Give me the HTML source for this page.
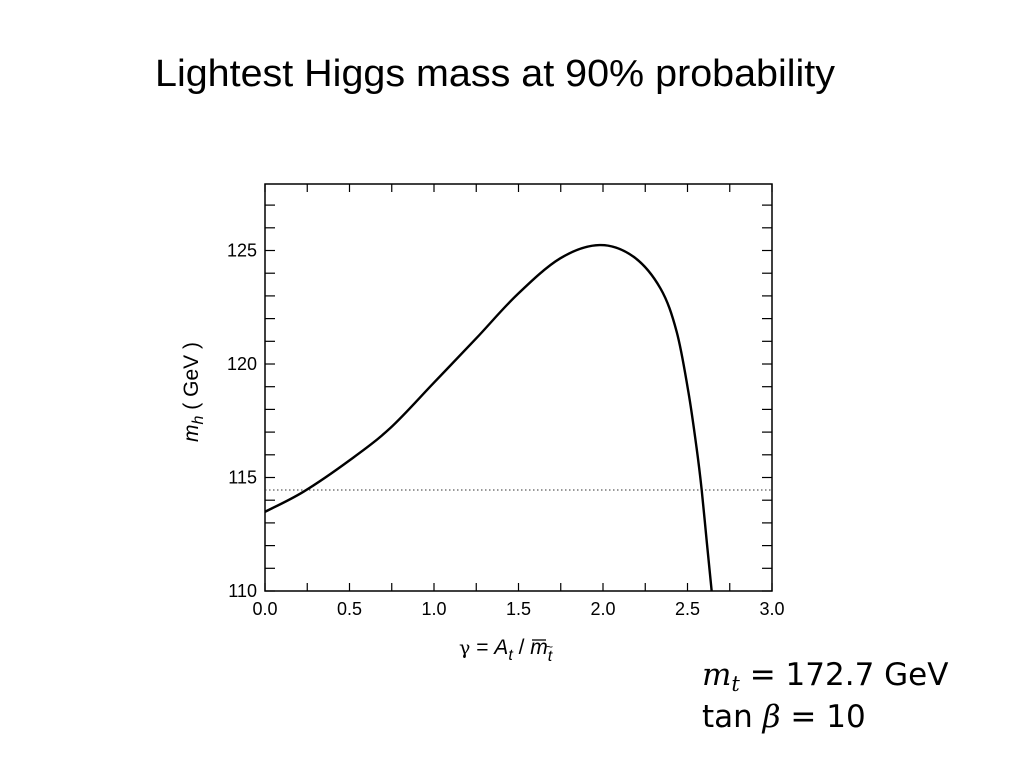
<!DOCTYPE html>
<html><head><meta charset="utf-8"><style>
body{margin:0;background:#fff;width:1024px;height:768px;overflow:hidden;font-family:"Liberation Sans",sans-serif}
</style></head><body>
<svg width="1024" height="768" xmlns="http://www.w3.org/2000/svg">
<text x="495" y="86" text-anchor="middle" font-size="38" textLength="680" lengthAdjust="spacingAndGlyphs" font-family="Liberation Sans">Lightest Higgs mass at 90% probability</text>
<g id="plot"></g>
<text transform="translate(198,392) rotate(-90)" text-anchor="middle" font-size="21" font-family="Liberation Sans"><tspan font-style="italic">m</tspan><tspan font-style="italic" font-size="16" dy="5">h</tspan><tspan dy="-5"> ( GeV )</tspan></text>
<g font-family="Liberation Sans" font-size="21">
<text x="459" y="654"><tspan font-family="DejaVu Serif" font-size="19">γ</tspan> = <tspan font-style="italic">A</tspan><tspan font-style="italic" font-size="16" dy="6">t</tspan><tspan dy="-6"> / </tspan><tspan font-style="italic">m</tspan><tspan font-style="italic" font-size="16" dy="7">t</tspan></text>
<line x1="532" y1="640" x2="546" y2="640" stroke="#000" stroke-width="1.3"/>
<text x="546" y="651" font-size="12">~</text>
</g>
<g font-family="DejaVu Sans, sans-serif" font-size="31">
<text x="702" y="685"><tspan font-family="DejaVu Serif" font-style="italic">m</tspan><tspan font-family="DejaVu Serif" font-style="italic" font-size="21" dy="6">t</tspan><tspan dy="-6"> = 172.7 GeV</tspan></text>
<text x="702" y="727">tan <tspan font-family="DejaVu Serif" font-style="italic">β</tspan> = 10</text>
</g>
</svg>
<script>
const xTicks=[0,0.5,1.0,1.5,2.0,2.5,3.0];
const xTickLabels=["0.0","0.5","1.0","1.5","2.0","2.5","3.0"];
const yTicks=[110,115,120,125];
const yTickLabels=["110","115","120","125"];
const curveX=[0,0.227,0.503,0.74,0.996,1.25,1.49,1.746,1.98,2.18,2.34,2.436,2.505,2.554,2.584,2.614,2.643];
const curveY=[113.49,114.37,115.77,117.17,119.15,121.13,123.04,124.65,125.24,124.73,123.33,121.42,118.78,116.29,114.45,112.17,110];
const limitY=114.45;
const L=265,R=772,T=184,B=591,xMin=0,xMax=3,yMin=110,yMax=127.93;
const sx=v=>L+(v-xMin)/(xMax-xMin)*(R-L);
const sy=v=>B-(v-yMin)/(yMax-yMin)*(B-T);
const NS="http://www.w3.org/2000/svg";
const g=document.getElementById('plot');
function mk(t,a,p){const e=document.createElementNS(NS,t);for(const k in a)e.setAttribute(k,a[k]);(p||g).appendChild(e);return e;}
const frame=mk('rect',{x:L,y:T,width:R-L,height:B-T,fill:'none',stroke:'#000','stroke-width':1.5});


for(let v=0;v<=3.0001;v+=0.25){const x=sx(v);
const t1=mk('line',{x1:x,y1:B,x2:x,y2:B-8,stroke:'#000','stroke-width':1.2});


mk('line',{x1:x,y1:T,x2:x,y2:T+8,stroke:'#000','stroke-width':1.2});}
for(let v=110;v<=127.5;v+=1){const y=sy(v);
const t2=mk('line',{x1:L,y1:y,x2:L+10,y2:y,stroke:'#000','stroke-width':1.2});


mk('line',{x1:R,y1:y,x2:R-10,y2:y,stroke:'#000','stroke-width':1.2});}
xTicks.forEach((v,i)=>{const t=mk('text',{x:sx(v),y:B+24,'text-anchor':'middle','font-size':18,'font-family':'Liberation Sans'});t.textContent=xTickLabels[i];

});
yTicks.forEach((v,i)=>{const t=mk('text',{x:257,y:sy(v)+6,'text-anchor':'end','font-size':18,'font-family':'Liberation Sans'});t.textContent=yTickLabels[i];

});
const lim=mk('line',{x1:L,y1:sy(limitY),x2:R,y2:sy(limitY),stroke:'#333','stroke-width':1,'stroke-dasharray':'1.5,2.5'});


const P=curveX.map((x,i)=>[sx(x),sy(curveY[i])]);
let d='M'+P[0][0]+','+P[0][1];
for(let i=0;i<P.length-1;i++){const p0=P[i-1]||P[i],p1=P[i],p2=P[i+1],p3=P[i+2]||p2;
d+=' C'+(p1[0]+(p2[0]-p0[0])/6)+','+(p1[1]+(p2[1]-p0[1])/6)+' '+(p2[0]-(p3[0]-p1[0])/6)+','+(p2[1]-(p3[1]-p1[1])/6)+' '+p2[0]+','+p2[1];}
const c=mk('path',{d:d,fill:'none',stroke:'#000','stroke-width':2.4});


</script>
</body></html>
